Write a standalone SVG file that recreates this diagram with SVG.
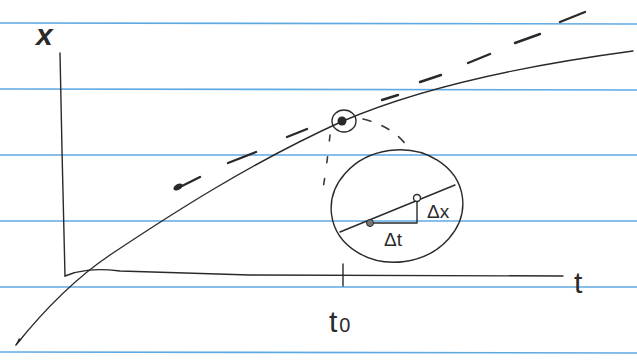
<svg xmlns="http://www.w3.org/2000/svg" width="637" height="360" viewBox="0 0 637 360">
<style>
.rule{stroke:#5fa9e3;stroke-width:1.6;fill:none}
.ink{stroke:#2a2a2a;stroke-width:1.4;fill:none;stroke-linecap:round;stroke-linejoin:round}
.dash{stroke:#2a2a2a;stroke-width:2.4;fill:none;stroke-linecap:round}
.dot{stroke:#3a3a3a;stroke-width:1.6;fill:none;stroke-linecap:round}
.lbl{font-family:"Liberation Sans","DejaVu Sans",sans-serif;fill:#2a2a2a}
</style>
<rect width="637" height="360" fill="#ffffff"/>
<g id="paper-lines">
<line class="rule" x1="0" y1="23" x2="637" y2="24"/>
<line class="rule" x1="0" y1="89" x2="637" y2="90"/>
<line class="rule" x1="0" y1="155" x2="637" y2="155"/>
<line class="rule" x1="0" y1="221" x2="637" y2="221"/>
<line class="rule" x1="0" y1="287" x2="637" y2="287"/>
<line class="rule" x1="0" y1="352" x2="637" y2="353"/>
</g>
<g id="axes">
<path class="ink" d="M60,53 L62,150 L65,276"/>
<path class="ink" d="M65,276 C80,270 95,268 120,271 L250,275 L563,276"/>
<line class="ink" x1="343" y1="264" x2="343" y2="286" stroke-width="2.4"/>
<text class="lbl" x="36" y="45" font-size="30" font-style="italic" font-weight="bold">x</text>
<text class="lbl" x="574" y="293" font-size="30">t</text>
<text class="lbl" x="329" y="332" font-size="30">t<tspan font-size="20" dx="2">0</tspan></text>
</g>
<g id="curve">
<path class="ink" d="M16,345 C40,315 70,282 110,255 C170,215 250,163 343,121 C420,88 520,66 633,51"/>
<path d="M15,346 L19,338 L21,340 Z" fill="#2a2a2a"/>
</g>
<g id="tangent">
<ellipse cx="178" cy="187" rx="5" ry="3" transform="rotate(-30 178 187)" fill="#2a2a2a"/>
<line class="dash" x1="176" y1="189" x2="200" y2="177"/>
<line class="dash" x1="228" y1="163" x2="256" y2="152"/>
<line class="dash" x1="287" y1="137" x2="307" y2="129"/>
<line class="dash" x1="382" y1="100" x2="398" y2="95"/>
<line class="dash" x1="420" y1="82" x2="441" y2="75"/>
<line class="dash" x1="468" y1="63" x2="490" y2="54"/>
<line class="dash" x1="515" y1="43" x2="540" y2="34"/>
<line class="dash" x1="560" y1="22" x2="585" y2="12"/>
</g>
<g id="point">
<ellipse cx="344" cy="121" rx="12" ry="11" class="ink"/>
<circle cx="342" cy="121" r="4.5" fill="#2a2a2a"/>
</g>
<g id="zoom-connectors">
<path class="dot" d="M330,135 Q327,165 322,195" stroke-dasharray="6 16"/>
<path class="dot" d="M363,119 Q392,126 407,146" stroke-dasharray="8 12"/>
</g>
<g id="magnifier">
<ellipse cx="397" cy="206" rx="66" ry="56" transform="rotate(-8 397 206)" class="ink"/>
<line class="ink" x1="340" y1="232" x2="455" y2="185"/>
<path class="ink" d="M370,223 L417,223 L417,200"/>
<circle cx="370" cy="223" r="3.5" fill="#777" stroke="#2a2a2a" stroke-width="1"/>
<circle cx="417" cy="198" r="3.5" fill="#ffffff" stroke="#2a2a2a" stroke-width="1.4"/>
<text class="lbl" x="427" y="218" font-size="19">Δx</text>
<text class="lbl" x="384" y="246" font-size="19">Δt</text>
</g>
</svg>
